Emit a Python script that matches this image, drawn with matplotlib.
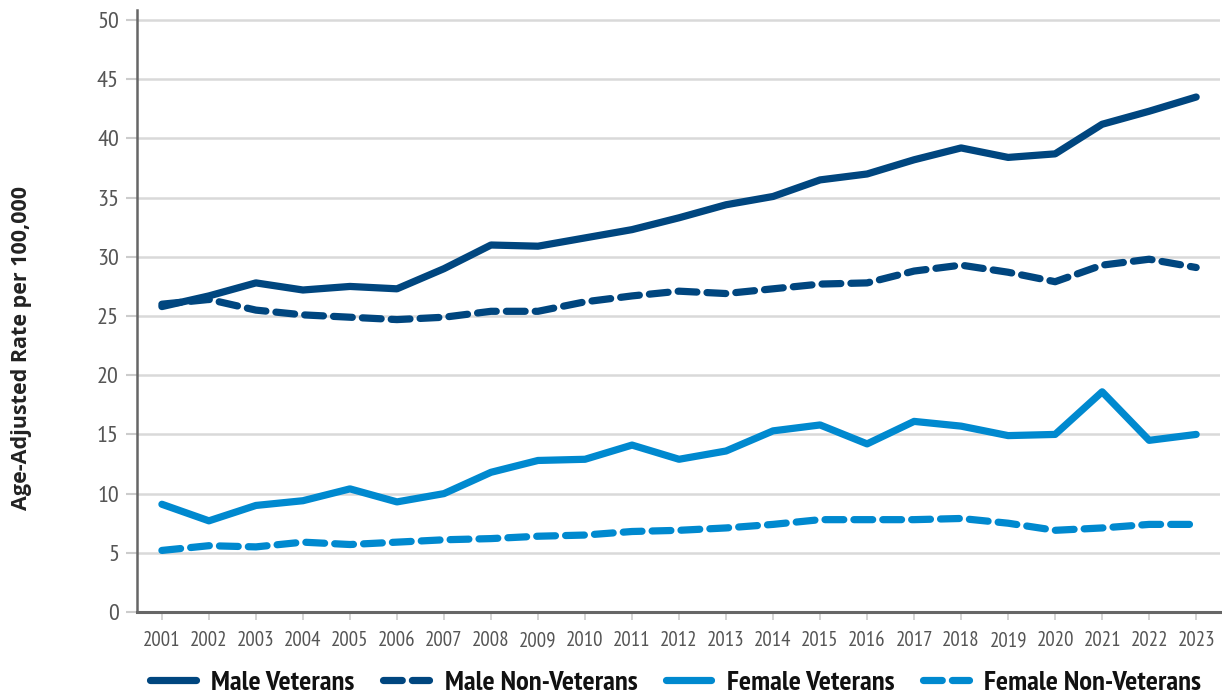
import matplotlib
matplotlib.use("Agg")
import matplotlib.pyplot as plt
from matplotlib.lines import Line2D

years = list(range(2001, 2024))
male_veterans = [25.8, 26.7, 27.8, 27.2, 27.5, 27.3, 29.0, 31.0, 30.9, 31.6, 32.3, 33.3,
                 34.4, 35.1, 36.5, 37.0, 38.2, 39.2, 38.4, 38.7, 41.2, 42.3, 43.5]
male_non_veterans = [26.0, 26.4, 25.5, 25.1, 24.9, 24.7, 24.9, 25.4, 25.4, 26.2, 26.7, 27.1,
                     26.9, 27.3, 27.7, 27.8, 28.8, 29.3, 28.7, 27.9, 29.3, 29.8, 29.1]
female_veterans = [9.1, 7.7, 9.0, 9.4, 10.4, 9.3, 10.0, 11.8, 12.8, 12.9, 14.1, 12.9,
                   13.6, 15.3, 15.8, 14.2, 16.1, 15.7, 14.9, 15.0, 18.6, 14.5, 15.0]
female_non_veterans = [5.2, 5.6, 5.5, 5.9, 5.7, 5.9, 6.1, 6.2, 6.4, 6.5, 6.8, 6.9,
                       7.1, 7.4, 7.8, 7.8, 7.8, 7.9, 7.5, 6.9, 7.1, 7.4, 7.4]
series_labels = ["Male Veterans", "Male Non-Veterans", "Female Veterans", "Female Non-Veterans"]
y_ticks = [0, 5, 10, 15, 20, 25, 30, 35, 40, 45, 50]
y_label = "Age-Adjusted Rate per 100,000"

NAVY = "#00467F"
LIGHT = "#0089CF"
NARROW = ["PT Sans Narrow", "DejaVu Sans"]

fig = plt.figure(figsize=(12.22, 6.96), dpi=100)
ax = fig.add_axes([0.1121, 0.1207, 0.886, 0.8649])

series = [male_veterans, male_non_veterans, female_veterans, female_non_veterans]
colors = [NAVY, NAVY, LIGHT, LIGHT]
styles = ["-", (0, (2.6, 1.4)), "-", (0, (2.6, 1.4))]
for vals, c, ls, lab in zip(series, colors, styles, series_labels):
    ax.plot(years, vals, color=c, lw=5.2, linestyle=ls, label=lab,
            solid_capstyle="round", dash_capstyle="round", solid_joinstyle="round", zorder=3)

ax.set_xlim(2000.47, 2023.5)
ax.set_ylim(0, 50.85)
ax.set_yticks(y_ticks)
ax.set_xticks(years)
ax.grid(axis="y", color="#d9d9d9", lw=1.8, zorder=0)
ax.set_axisbelow(True)

for s in ["top", "right"]:
    ax.spines[s].set_visible(False)
ax.spines["left"].set_color("#666666")
ax.spines["left"].set_linewidth(1.8)
ax.spines["bottom"].set_color("#666666")
ax.spines["bottom"].set_linewidth(2.2)

ax.tick_params(axis="y", length=8, width=1.5, color="#cccccc", pad=5,
               labelsize=17.5, labelcolor="#555555")
ax.tick_params(axis="x", length=6, width=1.2, color="#cccccc", pad=8,
               labelsize=15, labelcolor="#555555")
for t in ax.get_xticklabels() + ax.get_yticklabels():
    t.set_family(NARROW)

fig.text(0.018, 0.50, y_label, rotation=90, ha="center", va="center",
         fontsize=15.5, fontweight="bold", color="#222222", family=["Open Sans", "DejaVu Sans"])

handles = [Line2D([0], [0], color=c, lw=5.2, linestyle=ls,
                  solid_capstyle="round", dash_capstyle="round")
           for c, ls in zip(colors, styles)]
leg = fig.legend(handles, series_labels, loc="center", bbox_to_anchor=(0.553, 0.019),
                 ncol=4, frameon=False, handlelength=1.6, handletextpad=0.55,
                 columnspacing=1.0, prop={"family": NARROW, "weight": "bold", "size": 20.5})
for t in leg.get_texts():
    t.set_color("#111111")

fig.savefig("out.png", dpi=100)
